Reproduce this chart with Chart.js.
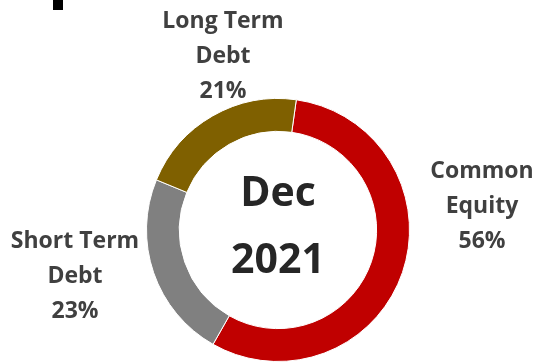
<!DOCTYPE html>
<html>
<head>
<meta charset="utf-8">
<script src="https://cdn.jsdelivr.net/npm/chart.js@4.4.1/dist/chart.umd.min.js"></script>
<style>
  html, body { margin: 0; padding: 0; background: #ffffff; }
  #wrap { width: 537px; height: 362px; position: relative; }
</style>
</head>
<body>
<div id="wrap"><canvas id="c" width="537" height="362"></canvas></div>
<script>
// Capital structure, December 2021
const categories = ['Common Equity', 'Short Term Debt', 'Long Term Debt'];
const shares = [56, 23, 21];
const centerLines = ['Dec', '2021'];

const sliceColors = ['#C00000', '#808080', '#7F6000'];
const labelLines = [['Common', 'Equity'], ['Short Term', 'Debt'], ['Long Term', 'Debt']];
// label block centres, relative to the ring centre
const labelOffsets = [[204, -24], [-203, 46], [-55, -174]];

const total = shares.reduce((a, b) => a + b, 0);

const ringText = {
  id: 'ringText',
  afterDatasetsDraw(chart) {
    const ctx = chart.ctx;
    const arc = chart.getDatasetMeta(0).data[0];
    const cx = arc.x, cy = arc.y;
    ctx.save();
    ctx.textAlign = 'center';
    ctx.textBaseline = 'middle';

    // centre caption
    ctx.fillStyle = '#262626';
    ctx.font = 'bold 41px "Open Sans", "Noto Sans", sans-serif';
    ctx.fillText(centerLines[0], cx, cy - 36);
    ctx.fillText(centerLines[1], cx, cy + 31);

    // category labels with percentages
    ctx.fillStyle = '#404040';
    ctx.font = 'bold 23px "Open Sans", "Noto Sans", sans-serif';
    const lineGap = 35;
    shares.forEach((v, i) => {
      const lines = labelLines[i].concat([Math.round(v / total * 100) + '%']);
      const [ox, oy] = labelOffsets[i];
      const y0 = cy + oy - lineGap * (lines.length - 1) / 2;
      lines.forEach((t, k) => ctx.fillText(t, cx + ox, y0 + k * lineGap));
    });

    // small dark mark at the top edge
    ctx.fillStyle = '#000000';
    ctx.fillRect(53, 0, 10, 10);
    ctx.restore();
  }
};

new Chart(document.getElementById('c'), {
  type: 'doughnut',
  data: {
    labels: categories,
    datasets: [{
      data: shares,
      backgroundColor: sliceColors,
      borderColor: '#ffffff',
      borderWidth: 1
    }]
  },
  options: {
    responsive: false,
    animation: false,
    rotation: 8,
    cutout: '75%',
    layout: { padding: { top: 98, bottom: 0, left: 146, right: 127 } },
    plugins: {
      legend: { display: false },
      tooltip: { enabled: false }
    }
  },
  plugins: [ringText]
});
</script>
</body>
</html>
